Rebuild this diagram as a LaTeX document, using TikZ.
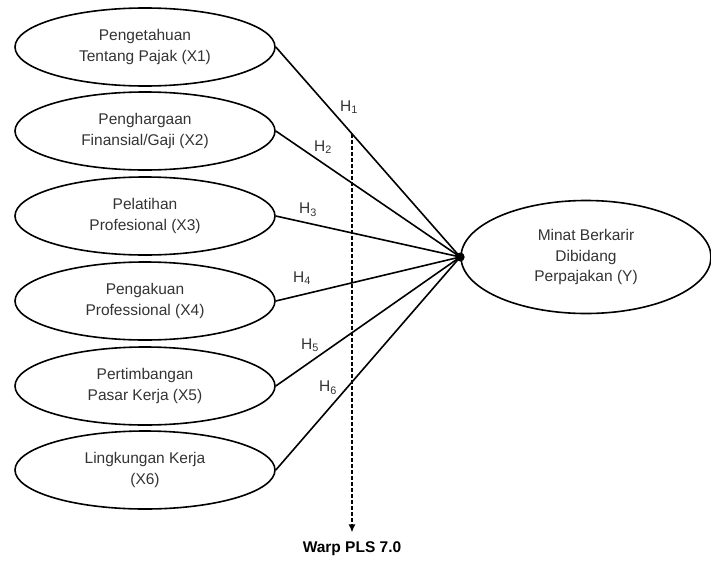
\documentclass[tikz,border=0pt]{standalone}
\usepackage{fontspec}
\setmainfont{Liberation Sans}
\usetikzlibrary{arrows.meta,shapes.geometric,positioning}

\begin{document}
\begin{tikzpicture}[x=1pt, y=-1pt, font=\fontsize{15.5}{20.5}\selectfont,
  var/.style={ellipse, draw, line width=1.6pt, minimum width=260pt,
    minimum height=78pt, inner sep=0pt, align=center, text=black!80},
  link/.style={line width=1.6pt},
  hlab/.style={text=black!80, inner sep=1pt}]
  \useasboundingbox (0,0) rectangle (711,562);
  \node[var] (x1) at (145,47) {Pengetahuan\\Tentang Pajak (X1)};
  \node[var] (x2) at (145,131) {Penghargaan\\Finansial/Gaji (X2)};
  \node[var] (x3) at (145,216) {Pelatihan\\Profesional (X3)};
  \node[var] (x4) at (145,301) {Pengakuan\\Professional (X4)};
  \node[var] (x5) at (145,386) {Pertimbangan\\Pasar Kerja (X5)};
  \node[var] (x6) at (145,470) {Lingkungan Kerja\\(X6)};
  \node[var, minimum width=250pt, minimum height=113pt] (y) at (586,257)
    {Minat Berkarir\\Dibidang\\Perpajakan (Y)};
  \foreach \i in {1,...,6}
    \draw[link] (x\i.east) -- (y.west);
  \fill (y.west) circle (4.5);
  \node[hlab] (h1) at (349,107) {H\textsubscript{1}};
  \node[hlab] (h2) at (323,147) {H\textsubscript{2}};
  \node[hlab] (h3) at (308,210) {H\textsubscript{3}};
  \node[hlab] (h4) at (302,278) {H\textsubscript{4}};
  \node[hlab] (h5) at (310,345) {H\textsubscript{5}};
  \node[hlab] (h6) at (328,388) {H\textsubscript{6}};
  \coordinate (top) at (intersection of x1.east--y.west and 352,0--352,10);
  \node (warp) at (352,549) {\textbf{Warp PLS 7.0}};
  \draw[line width=1.6pt, dash pattern=on 4pt off 2pt,
    -{Latex[length=8pt,width=7pt]}] (top) -- ([yshift=6pt]top |- warp.north);
\end{tikzpicture}
\end{document}
